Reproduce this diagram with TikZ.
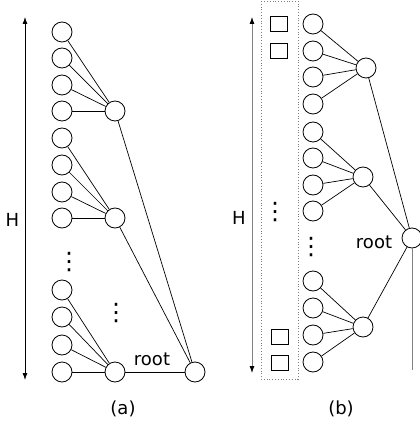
\documentclass[tikz,border=0pt]{standalone}
\usepackage{fontspec}
\setmainfont{DejaVu Sans}
\usetikzlibrary{arrows.meta}
\begin{document}
\begin{tikzpicture}[x=1pt,y=-1pt,
  leaf/.style={circle,draw,minimum size=20pt,inner sep=0pt,line width=0.8pt},
  sq/.style={draw,minimum width=17pt,minimum height=15pt,inner sep=0pt,line width=0.8pt},
  edge/.style={line width=0.7pt},
  lbl/.style={font=\fontsize{18}{20}\selectfont,inner sep=0pt,anchor=base},
  dts/.style={font=\fontsize{24}{24}\selectfont,inner sep=0pt},
  harrow/.style={{Latex[length=7pt,width=5pt,black]}-{Latex[length=7pt,width=5pt,black]},line width=0.8pt}]
\useasboundingbox (0,0) rectangle (419,427);

% ---------- (a) ----------
\foreach \i/\y in {1/32,2/58,3/85,4/111,5/138,6/165,7/192,8/218,9/290,10/317,11/345,12/372}
  \node[leaf] (a\i) at (62,\y) {};
\node[leaf] (am1) at (115,111) {};
\node[leaf] (am2) at (115,218) {};
\node[leaf] (am3) at (115,372) {};
\node[leaf] (aroot) at (195,372) {};
\foreach \i in {1,...,4} \draw[edge] (a\i) -- (am1);
\foreach \i in {5,...,8} \draw[edge] (a\i) -- (am2);
\foreach \i in {9,...,12} \draw[edge] (a\i) -- (am3);
\foreach \m in {am1,am2,am3} \draw[edge] (\m) -- (aroot);
\coordinate (atop) at (25,17);
\coordinate (abot) at (25,380);
\draw[harrow] (atop) -- (abot);
\node[lbl] (ha) at (12.5,226) {H};
\node[lbl] (ra) at (152,365) {root};
\node[lbl] (capa) at (123,414) {(a)};
\node[dts] (da1) at (69,262) {⋮};
\node[dts] (da2) at (116,313) {⋮};

% ---------- (b) ----------
\draw[gray,dotted,line width=0.8pt] (261,1) rectangle (298,379);
\foreach \i/\y in {1/24,2/51,3/77,4/104,5/132,6/158,7/185,8/211,9/281,10/308,11/335,12/362}
  \node[leaf] (b\i) at (313,\y) {};
\node[leaf] (bm1) at (366,68) {};
\node[leaf] (bm2) at (363,177) {};
\node[leaf] (bm3) at (363,327) {};
\node[leaf] (broot) at (412,238) {};
\foreach \i in {1,...,4} \draw[edge] (b\i) -- (bm1);
\foreach \i in {5,...,8} \draw[edge] (b\i) -- (bm2);
\foreach \i in {9,...,12} \draw[edge] (b\i) -- (bm3);
\foreach \m in {bm1,bm2,bm3} \draw[edge] (\m) -- (broot);
\coordinate (bend) at (412,370);
\draw[edge,gray] (broot) -- (bend);
\node[sq] (s1) at (279,24) {};
\node[sq] (s2) at (279,51) {};
\node[sq] (s3) at (280,337) {};
\node[sq] (s4) at (280,363) {};
\node[dts] (db1) at (275,212) {⋮};
\node[dts] (db2) at (311,247) {⋮};
\coordinate (btop) at (252,17);
\coordinate (bbot) at (252,373);
\draw[harrow,draw=gray] (btop) -- (bbot);
\node[lbl] (hb) at (239,224) {H};
\node[lbl] (rb) at (374,248) {root};
\node[lbl] (capb) at (341,414) {(b)};
\end{tikzpicture}
\end{document}
